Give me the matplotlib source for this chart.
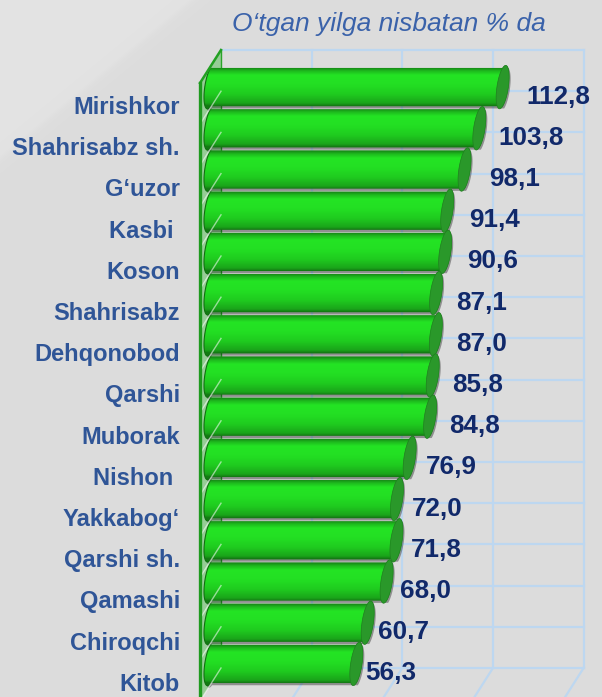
import numpy as np
import matplotlib
matplotlib.use("Agg")
import matplotlib.pyplot as plt
from matplotlib import transforms
from matplotlib.patches import Polygon
from matplotlib.colors import LinearSegmentedColormap

plt.rcParams['font.family'] = ['Liberation Sans', 'DejaVu Sans']

title = "O‘tgan yilga nisbatan % da"
districts = ["Mirishkor", "Shahrisabz sh.", "G‘uzor", "Kasbi ", "Koson", "Shahrisabz",
             "Dehqonobod", "Qarshi", "Muborak", "Nishon ", "Yakkabog‘", "Qarshi sh.",
             "Qamashi", "Chiroqchi", "Kitob"]
growth = [112.8, 103.8, 98.1, 91.4, 90.6, 87.1, 87.0, 85.8, 84.8,
          76.9, 72.0, 71.8, 68.0, 60.7, 56.3]
grid_ticks = [0, 35, 70, 105, 140]

W, H, DPI = 602, 697, 100
X0_PX, TOP_PX = 200, 83      # front plane origin
ROW = 41.2                   # px per category row
PX_PER_UNIT = 2.59
DEPTH = (21, 33)             # front -> back wall shift in px
LABEL_SHIFT, LABEL_SPREAD = 8.9, 1.147   # value labels fan out a bit wider than the bars

n = len(districts)
ident = transforms.IdentityTransform()

fig = plt.figure(figsize=(W / DPI, H / DPI), dpi=DPI)

# grey backdrop, lighter in the upper-left corner
bg = fig.add_axes([0, 0, 1, 1])
bg.set_axis_off()
yy, xx = np.mgrid[0:H, 0:W]
d = xx / 187.0 + yy / 154.0 - 1
shade = 0.862 + 0.028 / (1 + np.exp(d * 25)) + 0.008 * np.exp(-(d / 0.03) ** 2)
bg.imshow(shade, cmap='gray', vmin=0, vmax=1, extent=[0, W, H, 0], aspect='auto',
          interpolation='bilinear')

ax = fig.add_axes([X0_PX / W, 1 - (TOP_PX + n * ROW) / H,
                   grid_ticks[-1] * PX_PER_UNIT / W, n * ROW / H])
ax.set_xlim(grid_ticks[0], grid_ticks[-1])
ax.set_ylim(n, 0)
ax.set_autoscale_on(False)
ax.set_axis_off()

back = transforms.offset_copy(ax.transData, fig=fig, x=DEPTH[0], y=DEPTH[1], units='dots')
mid = transforms.offset_copy(ax.transData, fig=fig, x=DEPTH[0] / 2, y=DEPTH[1] / 2, units='dots')

# back wall grid
grid_c = "#bdd7f0"
for t in grid_ticks[1:]:
    ax.plot([t, t], [0, n], color=grid_c, lw=1.6, transform=back, clip_on=False, zorder=1)
for k in range(n + 1):
    ax.plot([grid_ticks[0], grid_ticks[-1]], [k, k], color=grid_c, lw=1.6,
            transform=back, clip_on=False, zorder=1)
# floor lines running to the front
for t in grid_ticks[1:]:
    pf = ax.transData.transform((t, n))
    pb = back.transform((t, n))
    ax.plot([pf[0], pb[0]], [pf[1], pb[1]], color=grid_c, lw=1.6, transform=ident,
            clip_on=False, zorder=1)

# left side wall
ft, bt = ax.transData.transform((0, 0)), back.transform((0, 0))
fb, bb = ax.transData.transform((0, n)), back.transform((0, n))
wall = Polygon([ft, bt, bb, fb], closed=True, transform=ident, facecolor="#2fb52f",
               alpha=0.4, edgecolor='none', zorder=1.5, clip_on=False)
ax.add_patch(wall)
ax.plot([bt[0], bb[0]], [bt[1], bb[1]], color="#2aa52a", lw=1, transform=ident,
        clip_on=False, zorder=1.6)

# cylinder bars
stops = [(0.0, "#137a13"), (0.07, "#1aa51a"), (0.3, "#1fcb1f"), (0.55, "#23df23"),
         (0.8, "#24e424"), (0.91, "#1db81d"), (1.0, "#157f15")]
bar_cmap = LinearSegmentedColormap.from_list("cyl", stops)
rad = ROW * 0.465
bvec = np.array(DEPTH) * 0.31
pad = 4
grad = np.clip((np.linspace(-pad, 2 * rad + pad, 80) / (2 * rad)), 0, 1)[:, None]


def ellipse(c, ts):
    return np.column_stack([c[0] + bvec[0] * np.sin(ts),
                            c[1] + rad * np.cos(ts) + bvec[1] * np.sin(ts)])


left_ts = np.linspace(2 * np.pi, np.pi, 40)
right_ts = np.linspace(np.pi, 0, 40)
full_ts = np.linspace(0, 2 * np.pi, 80)
ypos = np.arange(n) + 0.5

for k, (y, v) in enumerate(zip(ypos, growth)):
    cl = mid.transform((0, y))
    cr = mid.transform((v, y))
    body = np.vstack([ellipse(cl, left_ts), ellipse(cr, right_ts)])
    z = 3 + k * 0.01
    shadow = Polygon(body + np.array([1.5, -2.2]), closed=True, transform=ident,
                     facecolor=(0, 0, 0, 0.35), edgecolor='none', zorder=z - 0.5,
                     clip_on=False)
    ax.add_patch(shadow)
    clip = Polygon(body, closed=True, transform=ident, facecolor='none', edgecolor='none',
                   clip_on=False)
    ax.add_patch(clip)
    im = ax.imshow(grad, cmap=bar_cmap, vmin=0, vmax=1, origin='lower', aspect='auto',
                   extent=[cl[0] - 10, cr[0] + 10, cl[1] - rad - pad, cl[1] + rad + pad],
                   transform=ident, interpolation='bilinear', zorder=z)
    im.set_clip_path(clip)
    im.set_clip_box(fig.bbox)
    lc = ellipse(cl, left_ts)
    ax.plot(lc[:, 0], lc[:, 1], color="#0f700f", lw=0.8, transform=ident,
            clip_on=False, zorder=z + 0.001)
    cap = Polygon(ellipse(cr, full_ts), closed=True, transform=ident, facecolor="#2a982a",
                  edgecolor="#207f20", lw=0.5, zorder=z + 0.002, clip_on=False)
    ax.add_patch(cap)

# wall front edge and top edge, row lines across the wall
for k in range(n + 1):
    pf = ax.transData.transform((0, k))
    pb = back.transform((0, k))
    ax.plot([pf[0], pb[0]], [pf[1], pb[1]], color="white", lw=1.0, alpha=0.55,
            transform=ident, clip_on=False, zorder=4)
ax.plot([ft[0], bt[0]], [ft[1], bt[1]], color="#22a022", lw=1.8, transform=ident,
        clip_on=False, zorder=4.1)
ax.plot([0, 0], [0, n + 0.5], color="#1f9a1f", lw=2.4, clip_on=False, zorder=4.1)

# category names and values
for y, name, v in zip(ypos, districts, growth):
    ax.annotate(name, xy=(0, y), xytext=(-20, -10.4), textcoords='offset pixels',
                ha='right', va='baseline', fontsize=17, fontweight='bold',
                color="#2f5597", zorder=5)
    ax.text(LABEL_SHIFT + LABEL_SPREAD * v, y, f"{v:.1f}".replace('.', ','),
            ha='center', va='baseline', fontsize=18.7, fontweight='bold',
            color="#11296a", clip_on=False, zorder=5)

fig.text(388.5 / W, 1 - 31 / H, title, ha='center', va='baseline', fontsize=19,
         style='italic', color="#3a62aa")

fig.savefig("out.png", dpi=DPI)
